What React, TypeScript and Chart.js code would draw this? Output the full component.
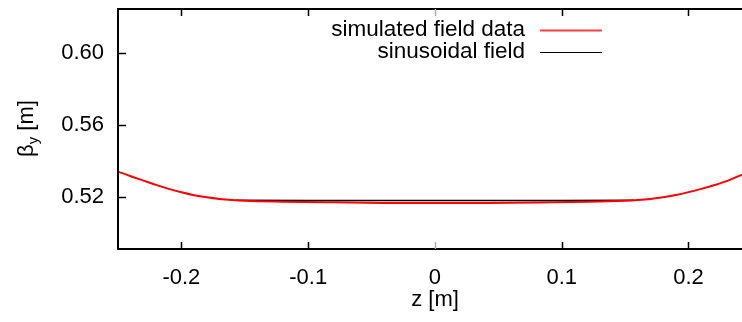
import React, { useEffect, useRef } from "react";
import { Chart, registerables } from "chart.js";
Chart.register(...registerables);

const zSimulated = [-0.25, -0.24, -0.23, -0.22, -0.21, -0.2, -0.19, -0.18, -0.17, -0.16, -0.15, -0.12, -0.08, -0.04, 0, 0.04, 0.08, 0.12, 0.15, 0.16, 0.17, 0.18, 0.19, 0.2, 0.21, 0.22, 0.23, 0.24, 0.25];
const betaSimulated = [0.5341, 0.5315, 0.5291, 0.5267, 0.5245, 0.5226, 0.521, 0.5198, 0.5189, 0.5183, 0.5179, 0.5174, 0.517, 0.5167, 0.5166, 0.5167, 0.5169, 0.5173, 0.5179, 0.5183, 0.5189, 0.5198, 0.5211, 0.5227, 0.5245, 0.5265, 0.5288, 0.5317, 0.5345];
const zSinusoidal = [-0.157, -0.1, 0, 0.1, 0.157];
const betaSinusoidal = [0.5182, 0.5181, 0.5181, 0.5181, 0.5182];
const xTicks = [-0.2, -0.1, 0, 0.1, 0.2];
const yTicks = [0.52, 0.56, 0.6];
const seriesLabels = ["simulated field data", "sinusoidal field"];
const seriesColors = ["#ff0000", "#000000"];
const xTitle = "z [m]";
const yTitleMain = "β";
const yTitleSub = "y";
const yTitleUnit = " [m]";

const FONT = "'Liberation Sans', Arial, Helvetica, sans-serif";

const framePlugin = {
  id: "gnuplotFrame",
  afterDraw(chart: any) {
    const ctx = chart.ctx as CanvasRenderingContext2D;
    const ca = chart.chartArea;
    const xs = chart.scales.x;
    const ys = chart.scales.y;
    ctx.save();
    // frame
    ctx.strokeStyle = "#000";
    ctx.lineWidth = 2;
    ctx.beginPath();
    ctx.moveTo(ca.right + 20, ca.top);
    ctx.lineTo(ca.left, ca.top);
    ctx.lineTo(ca.left, ca.bottom);
    ctx.lineTo(ca.right + 20, ca.bottom);
    ctx.stroke();
    // ticks
    ctx.lineWidth = 1.5;
    xTicks.forEach((v) => {
      const px = Math.round(xs.getPixelForValue(v)) + 0.5;
      ctx.strokeStyle = v === 0 ? "#b0b0b0" : "#000";
      ctx.beginPath();
      ctx.moveTo(px, ca.bottom);
      ctx.lineTo(px, ca.bottom - 7);
      ctx.moveTo(px, ca.top);
      ctx.lineTo(px, ca.top + 7);
      ctx.stroke();
    });
    ctx.strokeStyle = "#000";
    yTicks.forEach((v) => {
      const py = Math.round(ys.getPixelForValue(v)) + 0.5;
      ctx.beginPath();
      ctx.moveTo(ca.left, py);
      ctx.lineTo(ca.left + 8, py);
      ctx.stroke();
    });
    // x title
    ctx.fillStyle = "#000";
    ctx.font = `22px ${FONT}`;
    ctx.textAlign = "center";
    ctx.textBaseline = "middle";
    ctx.fillText(xTitle, 435, 300);
    // y title (rotated, with subscript)
    ctx.save();
    ctx.translate(33, 128.5);
    ctx.rotate(-Math.PI / 2);
    ctx.textAlign = "left";
    ctx.textBaseline = "alphabetic";
    ctx.font = `22px ${FONT}`;
    const wMain = ctx.measureText(yTitleMain).width;
    const wUnit = ctx.measureText(yTitleUnit).width;
    ctx.font = `15px ${FONT}`;
    const wSub = ctx.measureText(yTitleSub).width;
    const total = wMain + wSub + wUnit;
    let x0 = -total / 2;
    ctx.font = `22px ${FONT}`;
    ctx.fillText(yTitleMain, x0, 0);
    x0 += wMain;
    ctx.font = `15px ${FONT}`;
    ctx.fillText(yTitleSub, x0, 5);
    x0 += wSub;
    ctx.font = `22px ${FONT}`;
    ctx.fillText(yTitleUnit, x0, 0);
    ctx.restore();
    // legend
    ctx.font = `22.5px ${FONT}`;
    ctx.textAlign = "right";
    ctx.textBaseline = "middle";
    const rows = [29.5, 52];
    chart.data.datasets.forEach((ds: any, i: number) => {
      ctx.fillStyle = "#000";
      ctx.fillText(ds.label, 525, rows[i]);
      ctx.strokeStyle = i === 0 ? "#ff4040" : "#000";
      ctx.lineWidth = i === 0 ? 2 : 1.2;
      ctx.beginPath();
      ctx.moveTo(540, Math.round(rows[i]) + 0.5);
      ctx.lineTo(602, Math.round(rows[i]) + 0.5);
      ctx.stroke();
    });
    ctx.restore();
  },
};

export default function App() {
  const ref = useRef<HTMLCanvasElement | null>(null);
  useEffect(() => {
    if (!ref.current) return;
    const chart = new Chart(ref.current, {
      type: "line",
      data: {
        datasets: [
          {
            label: seriesLabels[0],
            data: zSimulated.map((z, i) => ({ x: z, y: betaSimulated[i] })),
            borderColor: seriesColors[0],
            borderWidth: 2,
            pointRadius: 0,
            cubicInterpolationMode: "monotone",
            fill: false,
          },
          {
            label: seriesLabels[1],
            data: zSinusoidal.map((z, i) => ({ x: z, y: betaSinusoidal[i] })),
            borderColor: seriesColors[1],
            borderWidth: 1.5,
            pointRadius: 0,
            fill: false,
          },
        ],
      },
      options: {
        responsive: false,
        animation: false,
        devicePixelRatio: 1,
        layout: { padding: { left: 0, top: 9, right: 0, bottom: 0 } },
        plugins: { legend: { display: false }, tooltip: { enabled: false } },
        scales: {
          x: {
            type: "linear",
            min: -0.25,
            max: 0.2422,
            afterBuildTicks: (s: any) => {
              s.ticks = xTicks.map((v) => ({ value: v }));
            },
            afterFit: (s: any) => {
              s.height = 73;
              s.paddingLeft = 0;
              s.paddingRight = 0;
              s.paddingTop = 0;
              s.paddingBottom = 0;
            },
            ticks: {
              padding: 16,
              color: "#000",
              font: { family: FONT, size: 22 },
              callback: (v: any) => String(Number(v)),
              maxRotation: 0,
            },
            grid: { display: false, drawTicks: false },
            border: { display: false },
          },
          y: {
            type: "linear",
            min: 0.4911,
            max: 0.6244,
            afterBuildTicks: (s: any) => {
              s.ticks = yTicks.map((v) => ({ value: v }));
            },
            afterFit: (s: any) => {
              s.width = 118;
              s.paddingTop = 0;
              s.paddingBottom = 0;
              s.paddingLeft = 0;
              s.paddingRight = 0;
            },
            ticks: {
              padding: 14,
              color: "#000",
              font: { family: FONT, size: 22 },
              callback: (v: any) => Number(v).toFixed(2),
            },
            grid: { display: false, drawTicks: false },
            border: { display: false },
          },
        },
      },
      plugins: [framePlugin],
    } as any);
    return () => chart.destroy();
  }, []);
  return (
    <div style={{ position: "fixed", left: 0, top: 0, width: 742, height: 322, background: "#fff" }}>
      <canvas ref={ref} width={742} height={322} style={{ display: "block" }} />
    </div>
  );
}
